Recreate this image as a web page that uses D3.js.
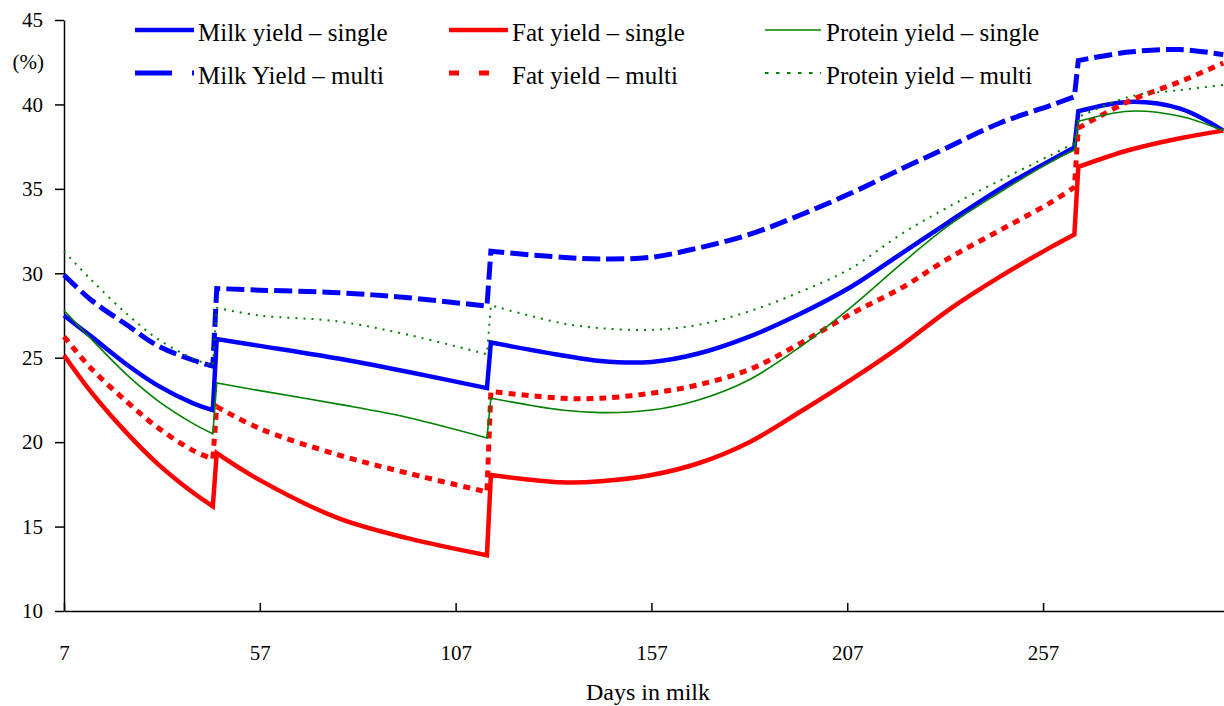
<!DOCTYPE html>
<html lang="en">
<head>
<meta charset="utf-8">
<script src="https://d3js.org/d3.v7.min.js"></script>
<style>
body { margin: 0; background: #fff; }
svg text { font-family: "Liberation Serif", "Times New Roman", serif; fill: #000; }
.axis path, .axis line { stroke: #000; stroke-width: 1.5; }
.axis text { font-size: 21px; }
</style>
</head>
<body>
<svg width="1224" height="706"></svg>
<script>

// days in milk sampled along the curves (each new lactation segment starts at segStarts)
var days = [7, 14, 23, 31, 40, 45, 46, 57, 77, 95, 115, 116, 134, 144, 157, 169, 182, 195, 208, 221, 233, 246, 259, 265, 266, 279, 292, 303];
var segStarts = [7, 46, 116, 266];

var milkSingle    = [27.5, 26.25, 24.6, 23.35, 22.3, 21.9, 26.1, 25.7, 24.95, 24.15, 23.2, 25.9, 25.15, 24.8, 24.75, 25.25, 26.25, 27.6, 29.2, 31.2, 33.05, 35.0, 36.7, 37.45, 39.6, 40.15, 39.75, 38.45];
var milkMulti     = [29.9, 28.4, 26.95, 25.7, 24.85, 24.5, 29.1, 29.0, 28.85, 28.55, 28.05, 31.3, 30.95, 30.85, 30.95, 31.5, 32.3, 33.45, 34.75, 36.2, 37.5, 38.9, 39.95, 40.45, 42.6, 43.1, 43.25, 42.95];
var fatSingle     = [25.15, 22.95, 20.55, 18.7, 17.0, 16.2, 19.35, 17.75, 15.5, 14.3, 13.3, 18.05, 17.62, 17.68, 18.05, 18.75, 20.0, 21.8, 23.7, 25.75, 27.85, 29.8, 31.55, 32.3, 36.3, 37.3, 38.0, 38.45];
var fatMulti      = [26.25, 24.35, 22.4, 20.85, 19.5, 19.0, 22.1, 20.8, 19.25, 18.15, 17.05, 23.0, 22.6, 22.6, 22.9, 23.4, 24.3, 25.85, 27.6, 29.15, 30.9, 32.55, 34.2, 35.1, 38.6, 40.2, 41.35, 42.45];
var proteinSingle = [27.8, 26.1, 24.0, 22.45, 21.1, 20.5, 23.5, 23.05, 22.25, 21.45, 20.25, 22.6, 21.9, 21.75, 21.9, 22.5, 23.7, 25.65, 28.0, 30.6, 32.85, 34.8, 36.6, 37.3, 39.0, 39.6, 39.3, 38.45];
var proteinMulti  = [31.3, 29.6, 27.6, 26.1, 24.95, 24.5, 27.95, 27.5, 27.15, 26.35, 25.2, 28.1, 27.05, 26.75, 26.65, 26.95, 27.75, 28.9, 30.3, 32.35, 33.95, 35.5, 37.0, 37.7, 39.25, 40.45, 40.85, 41.15];

var xTicks = [7, 57, 107, 157, 207, 257];
var yTicks = [10, 15, 20, 25, 30, 35, 40, 45];

var series = [
  {name: "Milk yield \u2013 single",    values: milkSingle,    color: "#0000ff", width: 4.5, dash: null,   legendDash: null,      col: 0, row: 0},
  {name: "Milk Yield \u2013 multi",     values: milkMulti,     color: "#0000ff", width: 5,   dash: "18,6", legendDash: "37,20",   col: 0, row: 1},
  {name: "Fat yield \u2013 single",     values: fatSingle,     color: "#ff0000", width: 4.5, dash: null,   legendDash: null,      col: 1, row: 0},
  {name: "Fat yield \u2013 multi",      values: fatMulti,      color: "#ff0000", width: 5,   dash: "7,6",  legendDash: "10,20",   col: 1, row: 1},
  {name: "Protein yield \u2013 single", values: proteinSingle, color: "#008000", width: 1.6, dash: null,   legendDash: null,      col: 2, row: 0},
  {name: "Protein yield \u2013 multi",  values: proteinMulti,  color: "#008000", width: 2,   dash: "2,6",  legendDash: "3.5,7.5", col: 2, row: 1}
];

var svg = d3.select("svg");

var x = d3.scaleLinear().domain([7, 303.2]).range([64, 1224]);
var y = d3.scaleLinear().domain([10, 45]).range([611, 20]);

// axes
svg.append("g")
    .attr("class", "axis")
    .attr("transform", "translate(0,611)")
    .call(d3.axisBottom(x).tickValues(xTicks).tickFormat(d3.format("d"))
      .tickSizeInner(-8).tickSizeOuter(0).tickPadding(34));

svg.append("g")
    .attr("class", "axis")
    .attr("transform", "translate(64,0)")
    .call(d3.axisLeft(y).tickValues(yTicks).tickSizeInner(9).tickSizeOuter(0).tickPadding(12));

svg.append("text")
    .attr("x", 44).attr("y", 69)
    .attr("text-anchor", "end")
    .style("font-size", "21px")
    .text("(%)");

svg.append("text")
    .attr("x", 648).attr("y", 700)
    .attr("text-anchor", "middle")
    .style("font-size", "24px")
    .text("Days in milk");

// one continuous path per series: smooth inside a segment, straight jump between segments
var line = d3.line()
    .x(function(d) { return x(d[0]); })
    .y(function(d) { return y(d[1]); })
    .curve(d3.curveCatmullRom.alpha(0.5));

function seriesPath(values) {
  var pts = days.map(function(d, i) { return [d, values[i]]; });
  return segStarts.map(function(s, k) {
    var end = k + 1 < segStarts.length ? segStarts[k + 1] : Infinity;
    var str = line(pts.filter(function(p) { return p[0] >= s && p[0] < end; }));
    return k > 0 ? "L" + str.slice(1) : str;
  }).join("");
}

svg.append("g").selectAll("path")
  .data(series)
  .enter().append("path")
    .attr("d", function(d) { return seriesPath(d.values); })
    .attr("fill", "none")
    .attr("stroke", function(d) { return d.color; })
    .attr("stroke-width", function(d) { return d.width; })
    .attr("stroke-dasharray", function(d) { return d.dash; });

// legend
var legCols = [{x1: 135, x2: 194, tx: 198}, {x1: 449, x2: 508, tx: 512}, {x1: 765, x2: 821, tx: 826}];
var legRows = [30, 73];

var leg = svg.append("g").selectAll("g")
  .data(series)
  .enter().append("g");

leg.append("line")
    .attr("x1", function(d) { return legCols[d.col].x1; })
    .attr("x2", function(d) { return legCols[d.col].x2; })
    .attr("y1", function(d) { return legRows[d.row]; })
    .attr("y2", function(d) { return legRows[d.row]; })
    .attr("stroke", function(d) { return d.color; })
    .attr("stroke-width", function(d) { return d.width; })
    .attr("stroke-dasharray", function(d) { return d.legendDash; });

leg.append("text")
    .attr("x", function(d) { return legCols[d.col].tx; })
    .attr("y", function(d) { return legRows[d.row] + 11; })
    .style("font-size", "25px")
    .text(function(d) { return d.name; });

</script>
</body>
</html>
